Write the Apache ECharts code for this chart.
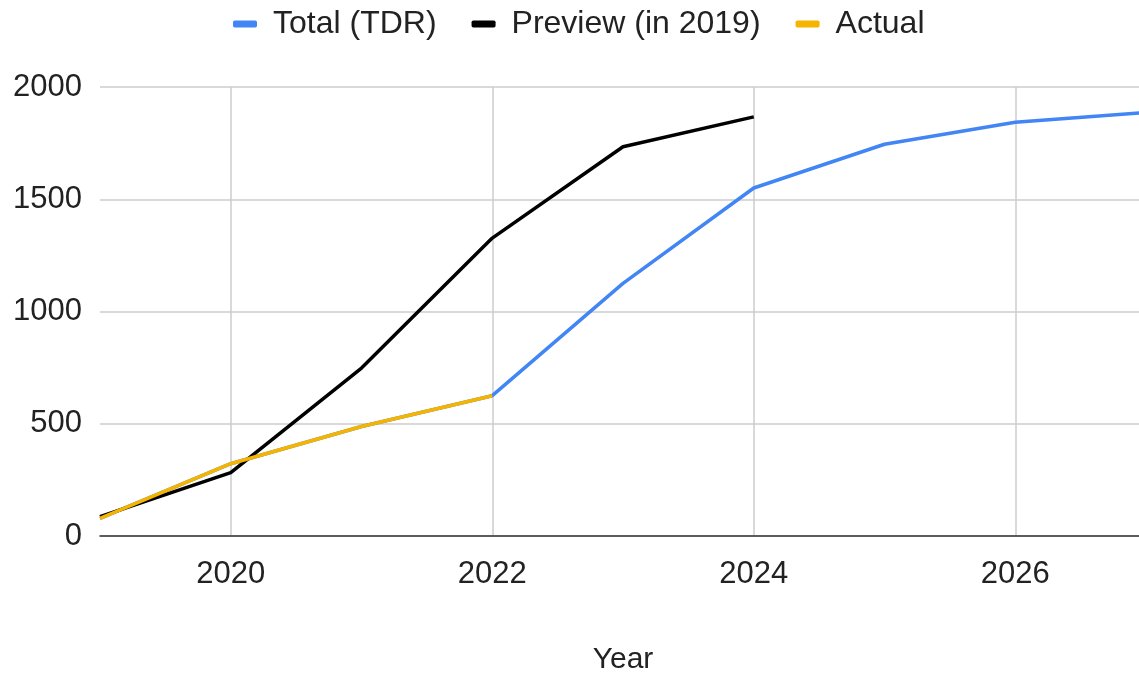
<!DOCTYPE html>
<html>
<head>
<meta charset="utf-8">
<script src="https://cdn.jsdelivr.net/npm/echarts@6/dist/echarts.min.js"></script>
<style>
  html, body { margin: 0; padding: 0; background: #fff; }
  #chart { width: 1139px; height: 673px; }
</style>
</head>
<body>
<div id="chart"></div>
<script>
// data
var years = [2019, 2020, 2021, 2022, 2023, 2024, 2025, 2026, 2027];
var totalTdr = [78, 322, 488, 625, 1125, 1550, 1745, 1843, 1886];
var preview2019 = [86, 282, 748, 1327, 1734, 1867, null, null, null];
var actual = [78, 322, 488, 625, null, null, null, null, null];
var yTicks = [0, 500, 1000, 1500, 2000];

function pairs(values) {
  var out = [];
  values.forEach(function (v, i) {
    if (v !== null) out.push([years[i], v]);
  });
  return out;
}

var font = "'Liberation Sans', Arial, sans-serif";

var chart = echarts.init(document.getElementById("chart"));

chart.setOption({
  animation: false,
  legend: {
    top: 3,
    left: 228,
    itemWidth: 24,
    itemHeight: 7,
    itemGap: 35,
    icon: "roundRect",
    textStyle: {
      fontFamily: font,
      fontSize: 32,
      color: "#222",
      padding: [0, 0, 0, 11],
    },
    data: ["Total (TDR)", "Preview (in 2019)", "Actual"],
  },
  grid: {
    left: 100,
    top: 87,
    width: 1046,
    height: 449,
    outerBoundsMode: "none",
  },
  xAxis: {
    type: "value",
    min: years[0],
    max: years[years.length - 1],
    splitNumber: 4,
    name: "Year",
    nameLocation: "middle",
    nameGap: 109,
    nameTextStyle: { fontFamily: font, fontSize: 30, color: "#222" },
    axisLine: { show: true, lineStyle: { color: "#333", width: 1.5 } },
    axisTick: { show: false },
    axisLabel: {
      showMinLabel: false,
      showMaxLabel: false,
      margin: 23,
      fontFamily: font,
      fontSize: 31,
      color: "#222",
      formatter: function (v) { return String(v); },
    },
    splitLine: {
      show: true,
      showMinLine: false,
      showMaxLine: false,
      lineStyle: { color: "#cccccc", width: 1.5 },
    },
  },
  yAxis: {
    type: "value",
    min: yTicks[0],
    max: yTicks[yTicks.length - 1],
    interval: 500,
    axisLine: { show: false },
    axisTick: { show: false },
    axisLabel: {
      margin: 18,
      fontFamily: font,
      fontSize: 31,
      color: "#222",
      formatter: function (v) { return String(v); },
    },
    splitLine: { lineStyle: { color: "#cccccc", width: 1.5 } },
  },
  series: [
    {
      name: "Total (TDR)",
      type: "line",
      data: pairs(totalTdr),
      showSymbol: false,
      lineStyle: { width: 3.5, color: "#4285f4" },
      itemStyle: { color: "#4285f4" },
    },
    {
      name: "Preview (in 2019)",
      type: "line",
      data: pairs(preview2019),
      showSymbol: false,
      lineStyle: { width: 3.5, color: "#000000" },
      itemStyle: { color: "#000000" },
    },
    {
      name: "Actual",
      type: "line",
      data: pairs(actual),
      showSymbol: false,
      lineStyle: { width: 3.5, color: "#f4b400" },
      itemStyle: { color: "#f4b400" },
    },
  ],
});
</script>
</body>
</html>
